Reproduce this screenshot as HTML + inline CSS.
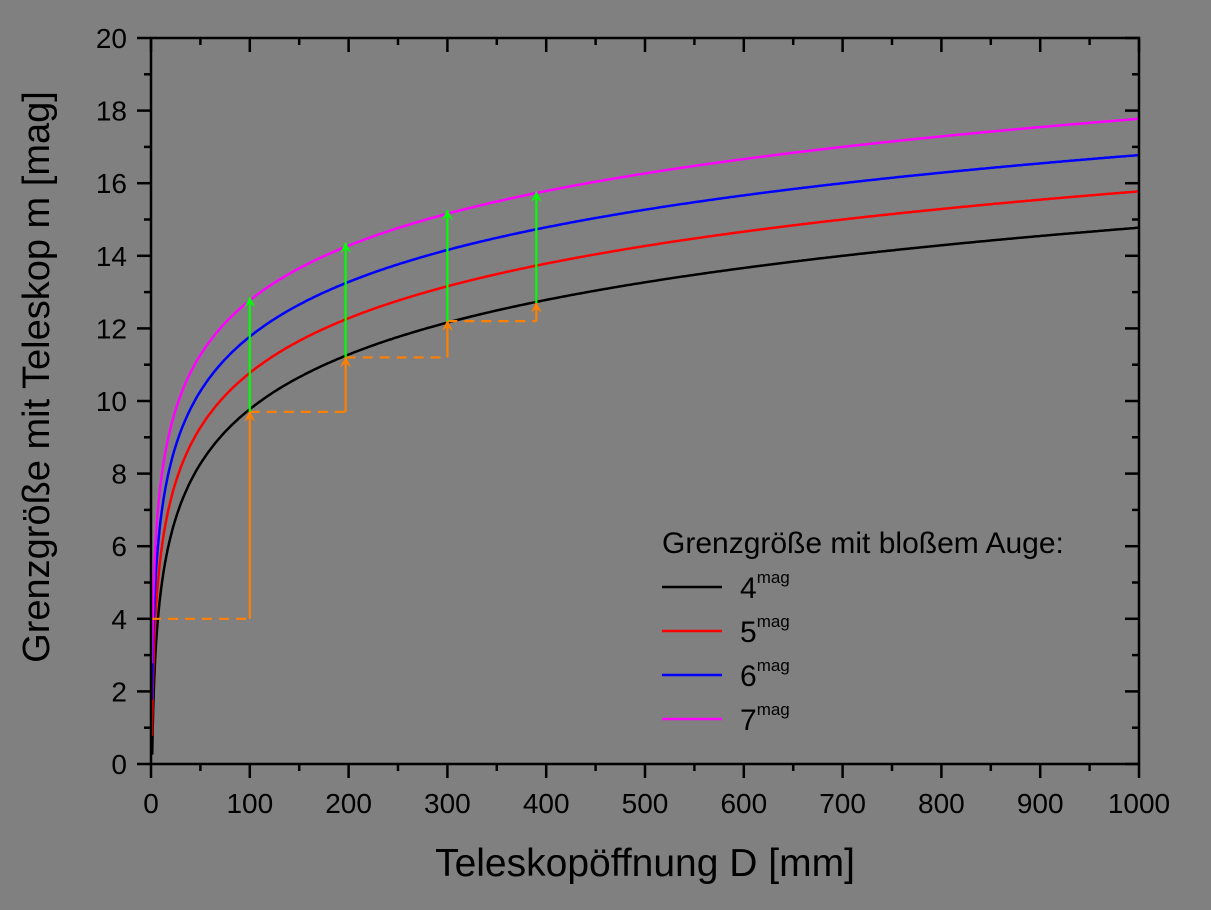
<!DOCTYPE html><html><head><style>body{margin:0;background:#808080}svg{display:block}text{font-family:"Liberation Sans",Arial,sans-serif;fill:#000}</style></head><body>
<svg id="s" width="1211" height="910" viewBox="0 0 1211 910" xmlns="http://www.w3.org/2000/svg">
<rect width="1211" height="910" fill="#808080"/>
<defs>
<marker id="ao" viewBox="0 0 10 10" refX="9" refY="5" markerUnits="userSpaceOnUse" markerWidth="13" markerHeight="11" orient="auto"><path d="M0,0 L10,5 L0,10 L4,5z" fill="#ff8000"/></marker>
<marker id="ag" viewBox="0 0 10 10" refX="9" refY="5" markerUnits="userSpaceOnUse" markerWidth="13" markerHeight="11" orient="auto"><path d="M0,0 L10,5 L0,10 L4,5z" fill="#00ff00"/></marker>
</defs>
<g id="g"></g>
<rect x="151" y="38" width="988" height="726" fill="none" stroke="#000" stroke-width="2.5"/>
<text x="662" y="553" font-size="30">Grenzgröße mit bloßem Auge:</text>
<line x1="662" y1="587" x2="722" y2="587" stroke="#000" stroke-width="2.5"/>
<line x1="662" y1="631" x2="722" y2="631" stroke="#ff0000" stroke-width="2.5"/>
<line x1="662" y1="675" x2="722" y2="675" stroke="#0000ff" stroke-width="2.5"/>
<line x1="662" y1="719" x2="722" y2="719" stroke="#ff00ff" stroke-width="2.5"/>
<text x="740" y="598" font-size="30">4<tspan font-size="17" dy="-15">mag</tspan></text>
<text x="740" y="642" font-size="30">5<tspan font-size="17" dy="-15">mag</tspan></text>
<text x="740" y="686" font-size="30">6<tspan font-size="17" dy="-15">mag</tspan></text>
<text x="740" y="730" font-size="30">7<tspan font-size="17" dy="-15">mag</tspan></text>
<text x="645" y="876" font-size="39" text-anchor="middle">Teleskopöffnung D [mm]</text>
<text transform="translate(49,377) rotate(-90)" font-size="38" text-anchor="middle">Grenzgröße mit Teleskop m [mag]</text>
</svg>
<script>
const g=document.getElementById('g');const NS='http://www.w3.org/2000/svg';
const X=d=>151+d*0.988, Y=m=>764-m*36.3;
function el(t,a){const e=document.createElementNS(NS,t);for(const k in a)e.setAttribute(k,a[k]);g.appendChild(e);return e;}
function tx(x,y,s,anc){const e=el('text',{x,y,'font-size':28,'text-anchor':anc});e.textContent=s;}
for(let i=0;i<=20;i++){const d=i*50,x=X(d),maj=i%2==0;
el('line',{x1:x,y1:764,x2:x,y2:764+(maj?14:7),stroke:'#000','stroke-width':2.5});
el('line',{x1:x,y1:38,x2:x,y2:38+(maj?14:7),stroke:'#000','stroke-width':2.5});
if(maj)tx(x,813,d,'middle');}
for(let i=0;i<=20;i++){const y=Y(i),maj=i%2==0;
el('line',{x1:151,y1:y,x2:151-(maj?14:7),y2:y,stroke:'#000','stroke-width':2.5});
el('line',{x1:1139,y1:y,x2:1139-(maj?14:7),y2:y,stroke:'#000','stroke-width':2.5});
if(maj)tx(127,y+10,i,'end');}
const cols=['#000','#ff0000','#0000ff','#ff00ff'];
[4,5,6,7].forEach((m0,k)=>{let p='';for(let d=1;d<=1000;d+=d<20?0.25:2){let m=m0+5*Math.log10(d/7.0);if(m<0)continue;p+=(p?'L':'M')+X(d).toFixed(1)+','+Y(m).toFixed(1);}
el('path',{d:p,fill:'none',stroke:cols[k],'stroke-width':2.5});});
const o={stroke:'#ff8000','stroke-width':2.2,fill:'none'};
function dash(d1,d2,m){el('line',Object.assign({x1:X(d1),y1:Y(m),x2:X(d2),y2:Y(m),'stroke-dasharray':'10,7'},o));}
function arr(d,m1,m2,c,mk){el('line',{x1:X(d),y1:Y(m1),x2:X(d),y2:Y(m2),stroke:c,'stroke-width':2.2,'marker-end':'url(#'+mk+')'});}
dash(0,100,4);arr(100,4,9.7,'#ff8000','ao');
dash(100,197,9.7);arr(197,9.7,11.2,'#ff8000','ao');
dash(197,300,11.2);arr(300,11.2,12.2,'#ff8000','ao');
dash(300,390,12.2);arr(390,12.2,12.7,'#ff8000','ao');
arr(100,9.7,12.85,'#00ff00','ag');arr(197,11.2,14.35,'#00ff00','ag');arr(300,12.2,15.25,'#00ff00','ag');arr(390,12.7,15.75,'#00ff00','ag');
</script>
</body></html>
